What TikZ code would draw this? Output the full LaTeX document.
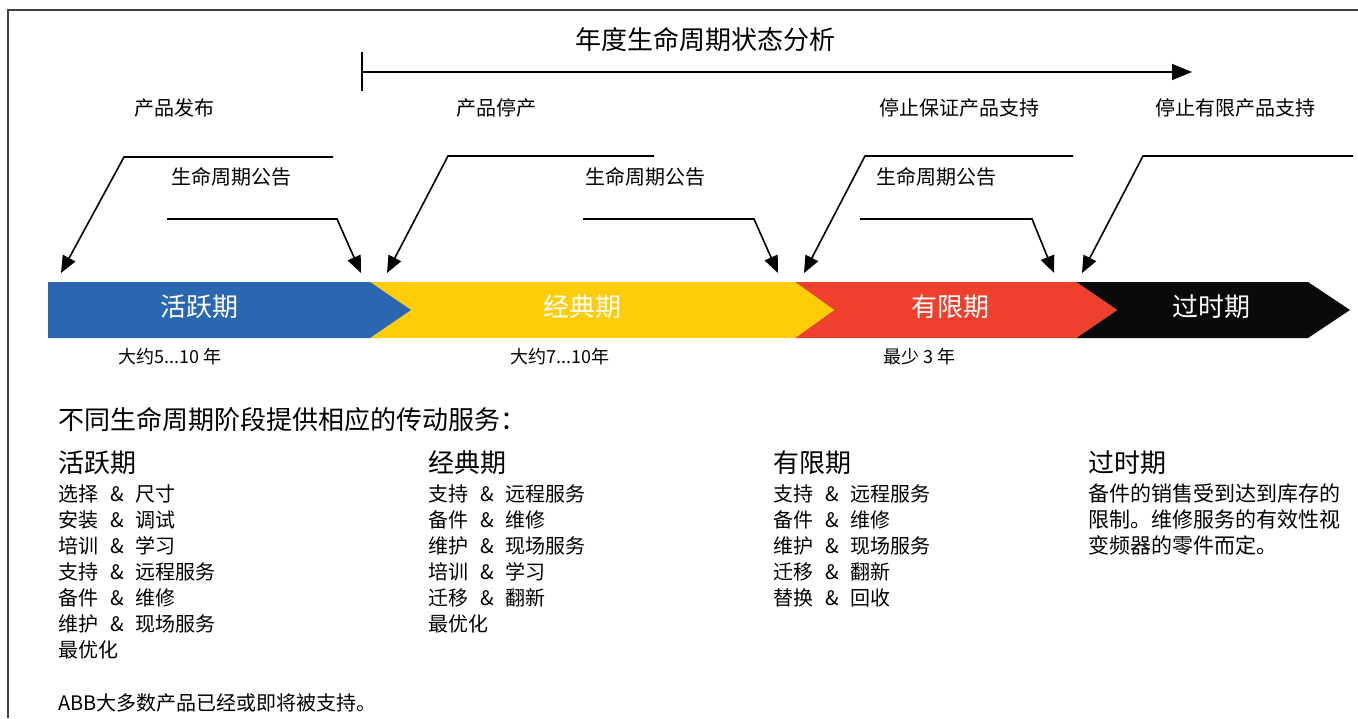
\documentclass[tikz,border=0pt]{standalone}
\usepackage{fontspec}
\setmainfont{Noto Sans CJK SC}
\usetikzlibrary{arrows.meta}
\definecolor{activeblue}{HTML}{2B67B1}
\definecolor{classicyellow}{HTML}{FFCC08}
\definecolor{limitedred}{HTML}{EE402D}
\definecolor{obsoleteblack}{HTML}{0A0A0A}
\newcommand{\andsep}{\hspace{0.6em}\&\hspace{0.6em}}
\begin{document}
\begin{tikzpicture}[x=1pt,y=-1pt,
  callout/.style={line width=1.6pt,-{Triangle[length=17pt,width=14pt]}},
  event/.style={font=\fontsize{20}{20}\selectfont,inner sep=0pt},
  phase/.style={font=\fontsize{26}{26}\selectfont,text=white,inner sep=0pt},
  span/.style={font=\fontsize{18}{18}\selectfont,inner sep=0pt},
  heading/.style={font=\fontsize{26}{26}\selectfont,anchor=west,inner sep=0pt},
  items/.style={font=\fontsize{20}{26}\selectfont,anchor=north west,align=left,inner sep=0pt}]
\useasboundingbox (0,0) rectangle (1358,718);
\draw[line width=1.5pt,black!75] (8,718) -- (8,10) -- (1358,10);

% timeline
\node[font=\fontsize{26}{26}\selectfont,inner sep=0pt] (title) at (705,40) {年度生命周期状态分析};
\coordinate (tstart) at (362,72);
\coordinate (tend) at (1192,72);
\draw[line width=1.2pt] (362,52) -- (362,91);
\draw[line width=1.2pt,-{Triangle[length=20pt,width=16pt]}] (tstart) -- (tend);

% events
\node[event] (launch) at (174,108) {产品发布};
\node[event] (stop) at (496,108) {产品停产};
\node[event] (warranty) at (959,108) {停止保证产品支持};
\node[event] (limited) at (1235,108) {停止有限产品支持};
\node[event] (note1) at (231,177) {生命周期公告};
\node[event] (note2) at (645,177) {生命周期公告};
\node[event] (note3) at (936,177) {生命周期公告};

% callout lines
\coordinate (a1) at (333,157); \coordinate (b1) at (124,157); \coordinate (c1) at (61,273);
\coordinate (a2) at (654,156); \coordinate (b2) at (448,156); \coordinate (c2) at (387,273);
\coordinate (a3) at (1073,156); \coordinate (b3) at (865,156); \coordinate (c3) at (804,273);
\coordinate (a4) at (1353,156); \coordinate (b4) at (1143,156); \coordinate (c4) at (1082,273);
\coordinate (d1) at (167,219); \coordinate (e1) at (337,219); \coordinate (f1) at (361,273);
\coordinate (d2) at (583,219); \coordinate (e2) at (754,219); \coordinate (f2) at (778,273);
\coordinate (d3) at (860,219); \coordinate (e3) at (1032,219); \coordinate (f3) at (1054,273);
\draw[callout] (a1) -- (b1) -- (c1);
\draw[callout] (a2) -- (b2) -- (c2);
\draw[callout] (a3) -- (b3) -- (c3);
\draw[callout] (a4) -- (b4) -- (c4);
\draw[callout] (d1) -- (e1) -- (f1);
\draw[callout] (d2) -- (e2) -- (f2);
\draw[callout] (d3) -- (e3) -- (f3);

% phase bar
\fill[obsoleteblack] (1076,282) -- (1308,282) -- (1350,310) -- (1308,338) -- (1076,338) -- (1117,310) -- cycle;
\fill[limitedred] (795,282) -- (1076,282) -- (1117,310) -- (1076,338) -- (795,338) -- (834,310) -- cycle;
\fill[classicyellow] (370,282) -- (795,282) -- (834,310) -- (795,338) -- (370,338) -- (411,310) -- cycle;
\fill[activeblue] (48,282) -- (370,282) -- (411,310) -- (370,338) -- (48,338) -- cycle;
\node[phase] (active) at (199,307) {活跃期};
\node[phase] (classic) at (582,307) {经典期};
\node[phase] (limit) at (950,307) {有限期};
\node[phase] (obsolete) at (1211,307) {过时期};
\node[span,anchor=west] (span1) at (118,357) {大约5...10 年};
\node[span,anchor=west] (span2) at (510,357) {大约7...10年};
\node[span,anchor=west] (span3) at (883,357) {最少 3 年};

% services
\node[heading] (intro) at (58,420) {不同生命周期阶段提供相应的传动服务：};
\node[heading] (h1) at (58,463) {活跃期};
\node[heading] (h2) at (428,463) {经典期};
\node[heading] (h3) at (773,463) {有限期};
\node[heading] (h4) at (1088,463) {过时期};
\node[items] (list1) at (58,484) {选择\andsep 尺寸\\安装\andsep 调试\\培训\andsep 学习\\支持\andsep 远程服务\\备件\andsep 维修\\维护\andsep 现场服务\\最优化};
\node[items] (list2) at (428,484) {支持\andsep 远程服务\\备件\andsep 维修\\维护\andsep 现场服务\\培训\andsep 学习\\迁移\andsep 翻新\\最优化};
\node[items] (list3) at (773,484) {支持\andsep 远程服务\\备件\andsep 维修\\维护\andsep 现场服务\\迁移\andsep 翻新\\替换\andsep 回收};
\node[items,font=\fontsize{21}{26}\selectfont] (list4) at (1088,484) {备件的销售受到达到库存的\\限制。维修服务的有效性视\\变频器的零件而定。};
\node[items,font=\fontsize{20}{20}\selectfont,anchor=west] (footer) at (58,703) {ABB大多数产品已经或即将被支持。};
\end{tikzpicture}
\end{document}
